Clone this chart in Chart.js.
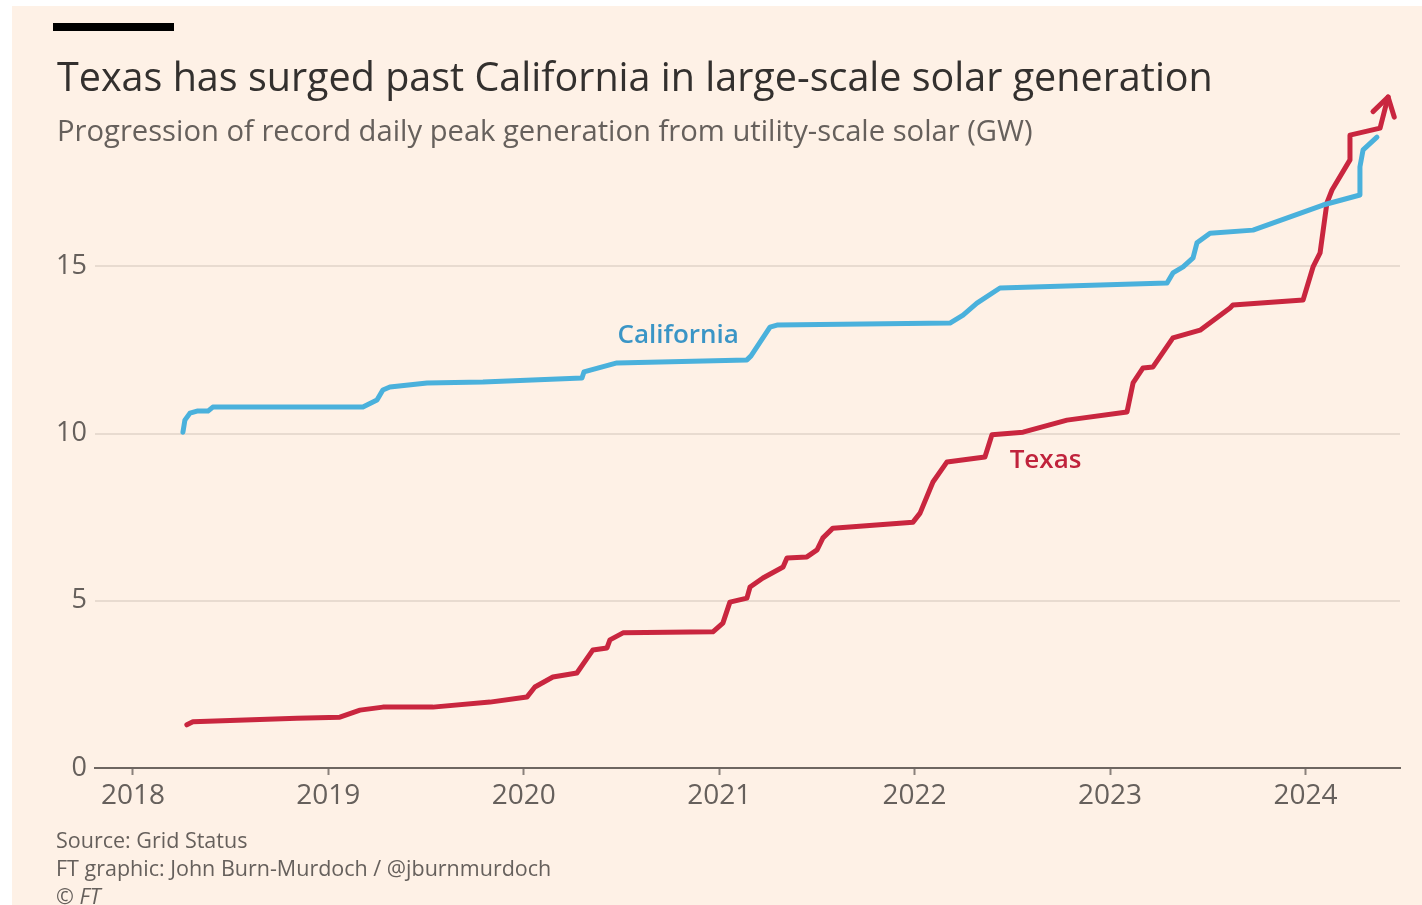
<!DOCTYPE html>
<html>
<head>
<meta charset="utf-8">
<script src="https://cdn.jsdelivr.net/npm/chart.js@4.4.1/dist/chart.umd.min.js"></script>
<style>
  html, body { margin: 0; padding: 0; background: #ffffff; }
  body { width: 1422px; height: 905px; overflow: hidden; position: relative; }
  #wrap { position: absolute; left: 12px; top: 6px; width: 1410px; height: 899px; background: #fef1e6; overflow: hidden; }
  #wrap canvas { position: absolute; left: 0; top: 0; }
  .txt { position: absolute; left: 45px; white-space: nowrap; font-family: "Open Sans", sans-serif; line-height: 1; }
  #bar { position: absolute; left: 41px; top: 17px; width: 121px; height: 8px; background: #000; }
  #title { top: 51px; font-size: 39.5px; color: #33302e; }
  #subtitle { top: 110px; font-size: 29.2px; color: #66605c; }
  .foot { font-size: 21.5px; color: #66605c; left: 44px; }
</style>
</head>
<body>
<div id="wrap">
  <canvas id="solarChart" width="1410" height="899"></canvas>
  <div id="bar"></div>
  <div id="title" class="txt">Texas has surged past California in large-scale solar generation</div>
  <div id="subtitle" class="txt">Progression of record daily peak generation from utility-scale solar (GW)</div>
  <div class="txt foot" style="top:823px">Source: Grid Status</div>
  <div class="txt foot" style="top:851px">FT graphic: John Burn-Murdoch / @jburnmurdoch</div>
  <div class="txt foot" style="top:879px">© <i>FT</i></div>
</div>
<script>
// record daily peak, GW
const caYears = [2018.256, 2018.266, 2018.292, 2018.328, 2018.384, 2018.409, 2019.177, 2019.249, 2019.279, 2019.315,
  2019.505, 2019.791, 2020.298, 2020.308, 2020.477, 2021.142, 2021.163, 2021.260, 2021.296, 2022.181,
  2022.248, 2022.319, 2022.437, 2023.292, 2023.322, 2023.374, 2023.425, 2023.445, 2023.512, 2023.732,
  2024.090, 2024.279, 2024.279, 2024.295, 2024.366];
const caValues = [10.04, 10.40, 10.61, 10.67, 10.67, 10.79, 10.79, 11.00, 11.30, 11.39,
  11.51, 11.54, 11.66, 11.84, 12.11, 12.20, 12.32, 13.18, 13.24, 13.30,
  13.54, 13.90, 14.35, 14.50, 14.80, 14.98, 15.25, 15.70, 15.99, 16.08,
  16.83, 17.13, 17.97, 18.48, 18.86];

const txYears = [2018.276, 2018.307, 2018.839, 2019.059, 2019.162, 2019.279, 2019.535, 2019.827, 2020.016, 2020.057,
  2020.149, 2020.272, 2020.354, 2020.426, 2020.441, 2020.508, 2020.968, 2021.019, 2021.055, 2021.142,
  2021.158, 2021.224, 2021.327, 2021.347, 2021.449, 2021.501, 2021.531, 2021.582, 2021.992, 2022.028,
  2022.094, 2022.166, 2022.360, 2022.396, 2022.555, 2022.780, 2023.087, 2023.118, 2023.169, 2023.220,
  2023.322, 2023.461, 2023.614, 2023.629, 2023.988, 2024.039, 2024.075, 2024.110, 2024.136, 2024.228,
  2024.228, 2024.382, 2024.423];
const txValues = [1.29, 1.38, 1.49, 1.52, 1.73, 1.82, 1.82, 1.97, 2.12, 2.42,
  2.72, 2.84, 3.53, 3.59, 3.83, 4.04, 4.07, 4.33, 4.96, 5.08,
  5.41, 5.68, 6.01, 6.28, 6.31, 6.52, 6.88, 7.17, 7.35, 7.62,
  8.55, 9.15, 9.30, 9.96, 10.04, 10.40, 10.64, 11.51, 11.96, 11.99,
  12.86, 13.09, 13.75, 13.84, 13.99, 14.98, 15.40, 16.89, 17.28, 18.18,
  18.92, 19.13, 20.06];

const yearTicks = [2018, 2019, 2020, 2021, 2022, 2023, 2024];
const valueTicks = [0, 5, 10, 15];

const BLUE = '#4ab1dc';
const RED = '#c9263f';
const FONT = '"Open Sans", sans-serif';

function toPoints(xs, ys) {
  return xs.map((x, i) => ({ x: x, y: ys[i] }));
}

// arrowhead on the end of the Texas line
const arrowPlugin = {
  id: 'arrowHead',
  afterDatasetsDraw(chart) {
    const pts = chart.getDatasetMeta(1).data;
    const a = pts[pts.length - 2], b = pts[pts.length - 1];
    const ang = Math.atan2(b.y - a.y, b.x - a.x);
    const len = 21, spread = 0.55;
    const ctx = chart.ctx;
    ctx.save();
    ctx.strokeStyle = RED;
    ctx.lineWidth = 5;
    ctx.lineCap = 'round';
    ctx.lineJoin = 'round';
    ctx.beginPath();
    ctx.moveTo(b.x - len * Math.cos(ang - spread), b.y - len * Math.sin(ang - spread));
    ctx.lineTo(b.x, b.y);
    ctx.lineTo(b.x - len * Math.cos(ang + spread), b.y - len * Math.sin(ang + spread));
    ctx.stroke();
    ctx.restore();
  }
};

// direct series labels
const seriesLabelPlugin = {
  id: 'seriesLabels',
  afterDatasetsDraw(chart) {
    const ctx = chart.ctx;
    const xs = chart.scales.x, ys = chart.scales.y;
    const items = [
      { text: 'California', x: 2020.79, y: 12.94, color: '#3a95c6' },
      { text: 'Texas', x: 2022.67, y: 9.18, color: '#c0233c' }
    ];
    ctx.save();
    ctx.font = '600 26px ' + FONT;
    ctx.textAlign = 'center';
    ctx.textBaseline = 'middle';
    items.forEach(it => {
      ctx.fillStyle = it.color;
      ctx.fillText(it.text, xs.getPixelForValue(it.x), ys.getPixelForValue(it.y));
    });
    ctx.restore();
  }
};

const ctx = document.getElementById('solarChart').getContext('2d');
const solarChart = new Chart(ctx, {
  type: 'line',
  data: {
    datasets: [{
      label: 'California',
      data: toPoints(caYears, caValues),
      borderColor: BLUE,
      borderWidth: 5,
      pointRadius: 0,
      tension: 0,
      borderJoinStyle: 'round',
      borderCapStyle: 'round',
      clip: false
    }, {
      label: 'Texas',
      data: toPoints(txYears, txValues),
      borderColor: RED,
      borderWidth: 5,
      pointRadius: 0,
      tension: 0,
      borderJoinStyle: 'round',
      borderCapStyle: 'round',
      clip: false
    }]
  },
  options: {
    responsive: false,
    animation: false,
    layout: { padding: { left: 0, top: 93, right: 22, bottom: 97 } },
    plugins: {
      legend: { display: false },
      tooltip: { enabled: false }
    },
    scales: {
      x: {
        type: 'linear',
        min: 2017.806,
        max: 2024.484,
        afterBuildTicks: s => { s.ticks = yearTicks.map(v => ({ value: v })); },
        afterFit: s => { s.height = 40; },
        ticks: {
          callback: v => String(v),
          color: '#66605c',
          font: { family: FONT, size: 28 },
          padding: 4,
          maxRotation: 0
        },
        grid: {
          drawOnChartArea: false,
          drawTicks: true,
          tickLength: 7,
          tickColor: '#8a817b',
          tickWidth: 2
        },
        border: { display: true, color: '#6e6661', width: 2 }
      },
      y: {
        min: 0,
        max: 20,
        afterBuildTicks: s => { s.ticks = valueTicks.map(v => ({ value: v })); },
        afterFit: s => { s.width = 83; },
        ticks: {
          color: '#66605c',
          font: { family: FONT, size: 27 },
          padding: 8
        },
        grid: {
          drawTicks: false,
          color: c => c.tick && c.tick.value === 0 ? 'rgba(0,0,0,0)' : '#e8dbd0',
          lineWidth: 2
        },
        border: { display: false }
      }
    }
  },
  plugins: [arrowPlugin, seriesLabelPlugin]
});
</script>
</body>
</html>
